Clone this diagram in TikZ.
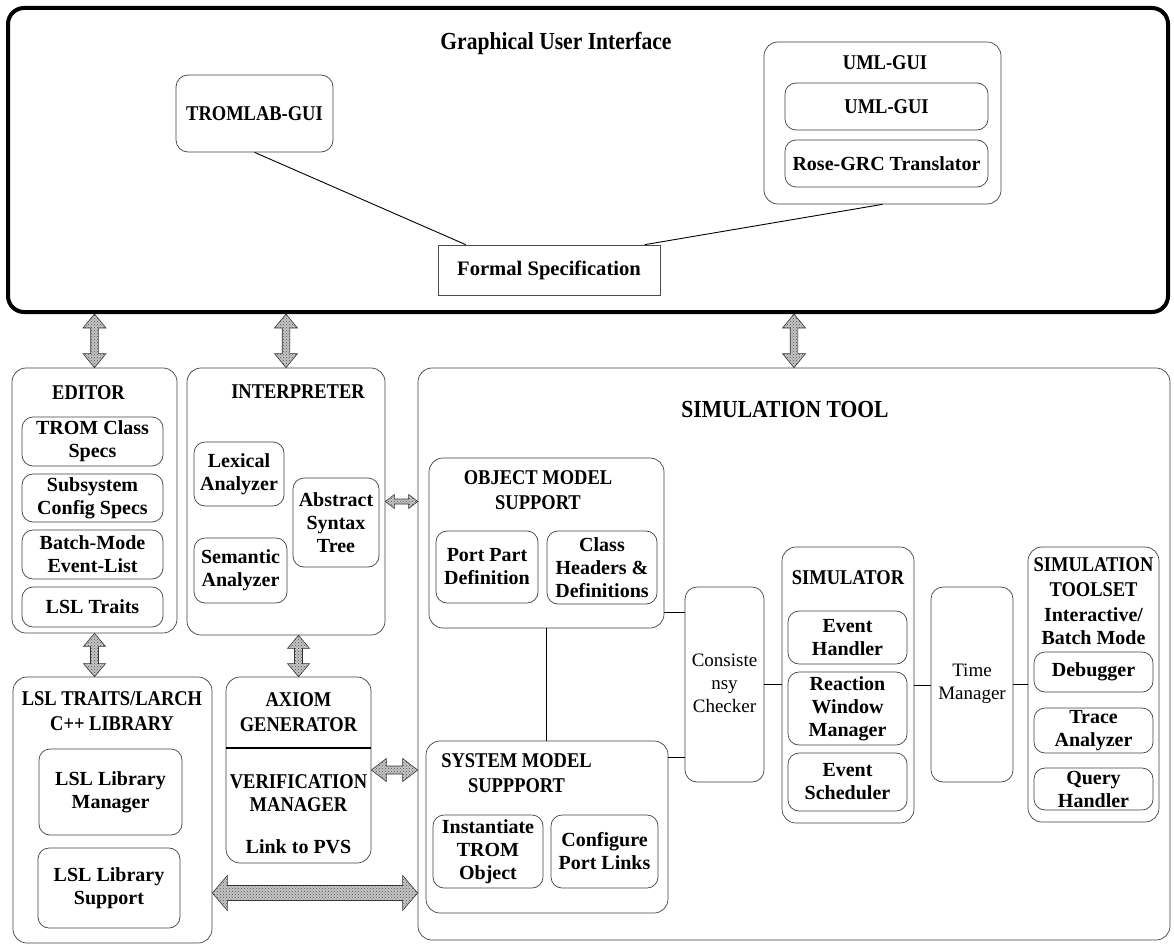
\documentclass[tikz,border=0pt]{standalone}
\usepackage{fontspec}
\setmainfont{Liberation Serif}
\newfontfamily\headfont{Liberation Serif}[FakeStretch=0.88]
\usetikzlibrary{calc,patterns}

% vertical double block arrow: #1 upper tip, #2 lower tip, #3 head half width, #4 shaft half width, #5 head length
\newcommand\VArrowBlock[5]{%
  \draw[blk] (#1) -- ($(#1)+(-#3pt,-#5pt)$) -- ($(#1)+(-#4pt,-#5pt)$) -- ($(#2)+(-#4pt,#5pt)$)
    -- ($(#2)+(-#3pt,#5pt)$) -- (#2) -- ($(#2)+(#3pt,#5pt)$) -- ($(#2)+(#4pt,#5pt)$)
    -- ($(#1)+(#4pt,-#5pt)$) -- ($(#1)+(#3pt,-#5pt)$) -- cycle;}
% horizontal double block arrow: #1 left tip, #2 right tip
\newcommand\HArrowBlock[5]{%
  \draw[blk] (#1) -- ($(#1)+(#5pt,#3pt)$) -- ($(#1)+(#5pt,#4pt)$) -- ($(#2)+(-#5pt,#4pt)$)
    -- ($(#2)+(-#5pt,#3pt)$) -- (#2) -- ($(#2)+(-#5pt,-#3pt)$) -- ($(#2)+(-#5pt,-#4pt)$)
    -- ($(#1)+(#5pt,-#4pt)$) -- ($(#1)+(#5pt,-#3pt)$) -- cycle;}

\begin{document}
\begin{tikzpicture}[x=1pt,y=-1pt,
  cbox/.style={draw=black!75, line width=0.7pt, rounded corners=14pt, inner sep=0pt},
  ibox/.style={draw=black!75, line width=0.7pt, rounded corners=11pt, inner sep=0pt,
               align=center, font=\bfseries\fontsize{20}{23}\selectfont},
  htxt/.style={align=center, inner sep=0pt, font=\headfont\bfseries\fontsize{21}{25}\selectfont},
  bigtxt/.style={align=center, inner sep=0pt, font=\headfont\bfseries\fontsize{24.5}{28}\selectfont},
  btxt/.style={align=center, inner sep=0pt, font=\bfseries\fontsize{20}{23}\selectfont},
  rtxt/.style={align=center, inner sep=0pt, font=\fontsize{19}{23}\selectfont},
  wire/.style={draw=black, line width=0.9pt},
  blk/.style={fill=gray!45, draw=black!80, line width=0.6pt, line join=miter,
              postaction={pattern=crosshatch dots, pattern color=black!70}},
]
\useasboundingbox (0,0) rectangle (1174,944);

% ---------------- Graphical user interface ----------------
\node[draw=black, line width=4pt, rounded corners=16pt, minimum width=1160pt, minimum height=304pt] (gui) at (588,160) {};
\node[bigtxt] (guiT) at (556,43) {Graphical User Interface};
\node[cbox, rounded corners=12pt, minimum width=157pt, minimum height=77pt, htxt] (trom) at (254.5,113.5) {TROMLAB-GUI};
\node[cbox, minimum width=237pt, minimum height=162pt] (uml) at (882.5,123) {};
\node[htxt] (umlT) at (885,63) {UML-GUI};
\node[ibox, minimum width=203pt, minimum height=47pt, font=\headfont\bfseries\fontsize{21}{25}\selectfont] (umlIn) at (886.5,106.5) {UML-GUI};
\node[ibox, minimum width=203pt, minimum height=47pt] (rose) at (886.5,163.5) {Rose-GRC Translator};
\node[draw=black!70, line width=0.7pt, minimum width=222pt, minimum height=50pt, inner sep=0pt,
      font=\bfseries\fontsize{20.6}{24}\selectfont] (formal) at (549,270) {Formal Specification};
\draw[wire] (trom.south) -- ($(formal.north west)!0.126!(formal.north east)$);
\draw[wire] (uml.south) -- ($(formal.north west)!0.93!(formal.north east)$);

% ---------------- Editor ----------------
\node[cbox, minimum width=165pt, minimum height=265pt] (edit) at (94.5,500.5) {};
\node[htxt] (editT) at (88.5,393) {EDITOR};
\node[ibox, minimum width=141pt, minimum height=49pt] (tcs) at (92.5,441.5) {TROM Class\\Specs};
\node[ibox, minimum width=141pt, minimum height=48pt] (scs) at (92.5,498) {Subsystem\\Config Specs};
\node[ibox, minimum width=141pt, minimum height=49pt] (bme) at (92.5,554.5) {Batch-Mode\\Event-List};
\node[ibox, minimum width=141pt, minimum height=40pt] (lslt) at (92.5,607) {LSL Traits};

% ---------------- Interpreter ----------------
\node[cbox, minimum width=198pt, minimum height=267pt] (interp) at (286,501.5) {};
\node[htxt] (interpT) at (298,392) {INTERPRETER};
\node[ibox, minimum width=90pt, minimum height=64pt] (lex) at (239,474) {Lexical\\Analyzer};
\node[ibox, minimum width=93pt, minimum height=65pt] (sem) at (240.5,570.5) {Semantic\\Analyzer};
\node[ibox, minimum width=86pt, minimum height=89pt] (ast) at (336,522.5) {Abstract\\Syntax\\Tree};

% ---------------- LSL traits / Larch library ----------------
\node[cbox, minimum width=199pt, minimum height=266pt] (lsl) at (112.5,810) {};
\node[htxt] (lslT) at (112,711) {LSL TRAITS/LARCH\\C++ LIBRARY};
\node[ibox, minimum width=143pt, minimum height=86pt] (lslm) at (110.5,792) {LSL Library\\Manager};
\node[ibox, minimum width=142pt, minimum height=80pt] (lsls) at (109,888) {LSL Library\\Support};

% ---------------- Axiom generator / verification manager ----------------
\node[cbox, minimum width=145pt, minimum height=186pt] (axiom) at (298.5,770) {};
\draw[line width=1.4pt] (axiom.west |- 0,748) -- (axiom.east |- 0,748);
\node[htxt] (axiomT) at (298.5,712) {AXIOM\\GENERATOR};
\node[htxt, font=\headfont\bfseries\fontsize{21}{23}\selectfont] (verT) at (298.5,793.5) {VERIFICATION\\MANAGER};
\node[btxt] (pvs) at (298.5,847) {Link to PVS};

% ---------------- Simulation tool ----------------
\node[cbox, minimum width=752pt, minimum height=572pt] (sim) at (794,654) {};
\node[bigtxt] (simT) at (785,410) {SIMULATION TOOL};

\node[cbox, minimum width=235pt, minimum height=170pt] (oms) at (546.5,543) {};
\node[htxt] (omsT) at (538,490.5) {OBJECT MODEL\\SUPPORT};
\node[ibox, minimum width=102pt, minimum height=72pt] (ppd) at (487,567) {Port Part\\Definition};
\node[ibox, minimum width=110pt, minimum height=73pt] (chd) at (602,567.5) {Class\\Headers \&\\Definitions};

\node[cbox, minimum width=242pt, minimum height=172pt] (sms) at (547,827) {};
\node[htxt] (smsT) at (516.5,773) {SYSTEM MODEL\\SUPPPORT};
\node[ibox, minimum width=110pt, minimum height=73pt] (inst) at (488,851.5) {Instantiate\\TROM\\Object};
\node[ibox, minimum width=107pt, minimum height=73pt] (cpl) at (604.5,851.5) {Configure\\Port Links};

\node[cbox, rounded corners=12pt, minimum width=79pt, minimum height=195pt] (cc) at (724.5,684.5) {};
\node[rtxt] (ccT) at (724.5,683) {Consiste\\nsy\\Checker};

\node[cbox, minimum width=132pt, minimum height=276pt] (simu) at (848,685) {};
\node[htxt] (simuT) at (848,578) {SIMULATOR};
\node[ibox, minimum width=119pt, minimum height=53pt] (evh) at (847.5,637.5) {Event\\Handler};
\node[ibox, minimum width=119pt, minimum height=73pt] (rwm) at (847.5,708.5) {Reaction\\Window\\Manager};
\node[ibox, minimum width=119pt, minimum height=58pt] (evs) at (847.5,782) {Event\\Scheduler};

\node[cbox, rounded corners=12pt, minimum width=82pt, minimum height=195pt] (tm) at (972,684.5) {};
\node[rtxt] (tmT) at (972,683.5) {Time\\Manager};

\node[cbox, minimum width=131pt, minimum height=275pt] (tset) at (1093.5,684.5) {};
\node[htxt] (tsetT) at (1093.5,577.5) {SIMULATION\\TOOLSET};
\node[btxt] (tsetS) at (1093.5,626.5) {Interactive/\\Batch Mode};
\node[ibox, minimum width=119pt, minimum height=40pt] (dbg) at (1093.5,672) {Debugger};
\node[ibox, minimum width=119pt, minimum height=45pt] (tra) at (1093.5,730.5) {Trace\\Analyzer};
\node[ibox, minimum width=119pt, minimum height=42pt] (qry) at (1093.5,789) {Query\\Handler};

% ---------------- connectors inside the simulation tool ----------------
\draw[wire] (oms.south) -- (oms.south |- sms.north);
\draw[wire] ([yshift=-69pt]oms.east) -- ([yshift=-69pt]oms.east -| cc.west);
\draw[wire] ([yshift=70pt]sms.east) -- ([yshift=70pt]sms.east -| cc.west);
\draw[wire] (cc.east) -- (cc.east -| simu.west);
\draw[wire] (simu.east) -- (simu.east -| tm.west);
\draw[wire] (tm.east) -- (tm.east -| tset.west);

% ---------------- block arrows between components ----------------
\coordinate (aEd) at (edit.north |- gui.south);
\coordinate (aIn) at (interp.north |- gui.south);
\coordinate (aSi) at (sim.north |- gui.south);
\VArrowBlock{aEd}{edit.north}{11.5}{3.8}{14}
\VArrowBlock{aIn}{interp.north}{11.5}{3.8}{14}
\VArrowBlock{aSi}{sim.north}{11.5}{3.8}{14}
\coordinate (aLs) at (edit.south |- lsl.north);
\VArrowBlock{edit.south}{aLs}{11}{4}{13}
\coordinate (aAx) at (axiom.north |- interp.south);
\VArrowBlock{aAx}{axiom.north}{11}{4}{13}
\coordinate (aAst) at (interp.east -| sim.west);
\HArrowBlock{interp.east}{aAst}{7}{2.5}{9}
\coordinate (aVm) at (axiom.east -| sim.west);
\HArrowBlock{axiom.east}{aVm}{11.5}{4}{15}
\coordinate (aLibL) at ([yshift=-83pt]lsl.east);
\coordinate (aLibR) at (aLibL -| sim.west);
\HArrowBlock{aLibL}{aLibR}{17.5}{7.5}{15}
\end{tikzpicture}
\end{document}
